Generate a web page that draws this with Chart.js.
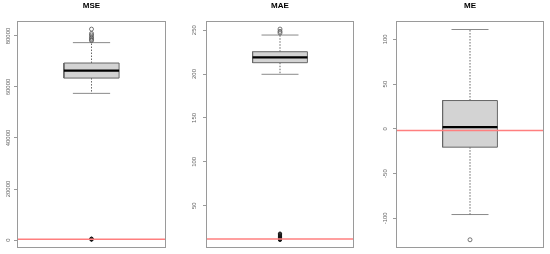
<!DOCTYPE html>
<html>
<head>
<meta charset="utf-8">
<script src="https://cdn.jsdelivr.net/npm/chart.js@4.4.1/dist/chart.umd.min.js"></script>
<style>
  html, body { margin: 0; padding: 0; background: #fff; }
  body { width: 550px; height: 254px; position: relative; overflow: hidden; }
  canvas { position: absolute; top: 0; }
</style>
</head>
<body>
<canvas id="c1" width="183" height="254" style="left:0px;width:183px;height:254px"></canvas>
<canvas id="c2" width="180" height="254" style="left:185px;width:180px;height:254px"></canvas>
<canvas id="c3" width="185" height="254" style="left:365px;width:185px;height:254px"></canvas>
<script>
// ---------- data ----------
const titles = ['MSE', 'MAE', 'ME'];

// [lower whisker, Q1, median, Q3, upper whisker]
const mseStats = [57500, 63500, 66400, 69400, 77400];
const mseOutliers = [78200, 78600, 79100, 79700, 80400, 81000, 82700];
const mseBenchmark = [150, 220, 300, 380, 460, 540];
const mseRef = 260;
const mseTicks = [0, 20000, 40000, 60000, 80000];

const maeStats = [199.7, 212.9, 219.0, 225.4, 244.4];
const maeOutliers = [246.8, 248.6, 251.2];
const maeBenchmark = [10.9, 11.6, 12.3, 13.1, 13.9, 14.7, 15.6, 16.5, 17.4, 18.3];
const maeRef = 12.1;
const maeTicks = [50, 100, 150, 200, 250];

const meStats = [-95.8, -20.5, 1.8, 31.6, 111.0];
const meOutliers = [-124.0];
const meBenchmark = [];
const meRef = -1.9;
const meTicks = [-100, -50, 0, 50, 100];

// ---------- drawing ----------
const X_MIN = 0.46, X_MAX = 1.54, HALF = 0.2, CAP = 0.135;
const FONT = 'Liberation Sans, Arial, Helvetica, sans-serif';

const framePlugin = {
  id: 'frame',
  afterDraw(chart) {
    const a = chart.chartArea, ctx = chart.ctx;
    ctx.save();
    ctx.strokeStyle = '#9a9a9a';
    ctx.lineWidth = 1;
    ctx.strokeRect(Math.round(a.left) + 0.5, Math.round(a.top) + 0.5,
                   Math.round(a.right - a.left) - 1, Math.round(a.bottom - a.top) - 1);
    ctx.restore();
  }
};

function line(points, extra) {
  return Object.assign({
    data: points, showLine: true, pointRadius: 0, pointHoverRadius: 0,
    borderWidth: 1, fill: false, tension: 0
  }, extra);
}

function makePanel(id, title, stats, outliers, bench, ref, ticks, ymin, ymax, axisW, padR, tickPad) {
  const [lw, q1, med, q3, uw] = stats;
  const datasets = [
    // reference line (top)
    line([{x: X_MIN, y: ref}, {x: X_MAX, y: ref}], {borderColor: '#ff7f7f', borderWidth: 1.5, order: 0}),
    // benchmark points
    {data: bench.map(v => ({x: 1, y: v})), pointRadius: 1.6, pointBorderWidth: 0.8,
     borderColor: '#111', backgroundColor: '#333', showLine: false, order: 1},
    // outliers
    {data: outliers.map(v => ({x: 1, y: v})), pointRadius: 2, pointBorderWidth: 0.8,
     borderColor: '#555', backgroundColor: 'rgba(0,0,0,0)', showLine: false, order: 2},
    // median
    line([{x: 1 - HALF, y: med}, {x: 1 + HALF, y: med}], {borderColor: '#000', borderWidth: 2.2, order: 3}),
    // box outline
    line([{x: 1 - HALF, y: q1}, {x: 1 + HALF, y: q1}, {x: 1 + HALF, y: q3}, {x: 1 - HALF, y: q3}, {x: 1 - HALF, y: q1}],
         {borderColor: '#666', borderWidth: 1, order: 4}),
    // box fill
    line([{x: 1 - HALF, y: q3}, {x: 1 + HALF, y: q3}],
         {borderColor: 'rgba(0,0,0,0)', borderWidth: 0, backgroundColor: '#d3d3d3', fill: {value: q1}, order: 5}),
    // whiskers
    line([{x: 1, y: q3}, {x: 1, y: uw}], {borderColor: '#666', borderDash: [1.5, 1.5], order: 6}),
    line([{x: 1, y: q1}, {x: 1, y: lw}], {borderColor: '#666', borderDash: [1.5, 1.5], order: 7}),
    // caps
    line([{x: 1 - CAP, y: uw}, {x: 1 + CAP, y: uw}], {borderColor: '#8a8a8a', order: 8}),
    line([{x: 1 - CAP, y: lw}, {x: 1 + CAP, y: lw}], {borderColor: '#8a8a8a', order: 9})
  ];
  return new Chart(document.getElementById(id), {
    type: 'scatter',
    data: {datasets},
    plugins: [framePlugin],
    options: {
      responsive: false, animation: false, events: [],
      layout: {padding: {left: 0, right: padR, top: 0, bottom: 6}},
      plugins: {
        legend: {display: false}, tooltip: {enabled: false},
        title: {display: true, text: title, fullSize: false, color: '#000',
                font: {family: FONT, size: 8, weight: 'bold'}, padding: {top: 1, bottom: 10.4}}
      },
      scales: {
        x: {type: 'linear', min: X_MIN, max: X_MAX, display: false},
        y: {
          type: 'linear', min: ymin, max: ymax,
          afterBuildTicks: s => { s.ticks = ticks.map(v => ({value: v})); },
          afterFit: s => { s.width = axisW; s.paddingTop = 0; s.paddingBottom = 0; },
          border: {display: false},
          grid: {display: true, drawOnChartArea: false, drawTicks: true, tickLength: 3, color: '#9a9a9a', tickWidth: 1},
          ticks: {font: {family: FONT, size: 6}, color: '#666', minRotation: 90, maxRotation: 90,
                  crossAlign: 'center', padding: tickPad, autoSkip: false,
                  callback: v => String(v)}
        }
      }
    }
  });
}

makePanel('c1', titles[0], mseStats, mseOutliers, mseBenchmark, mseRef, mseTicks, -3137, 85882, 17, 17, -2.3);
makePanel('c2', titles[1], maeStats, maeOutliers, maeBenchmark, maeRef, maeTicks, 1.8, 260.4, 21, 11, 4);
makePanel('c3', titles[2], meStats, meOutliers, meBenchmark, meRef, meTicks, -133.2, 120.5, 31, 6, 2);
</script>
</body>
</html>
